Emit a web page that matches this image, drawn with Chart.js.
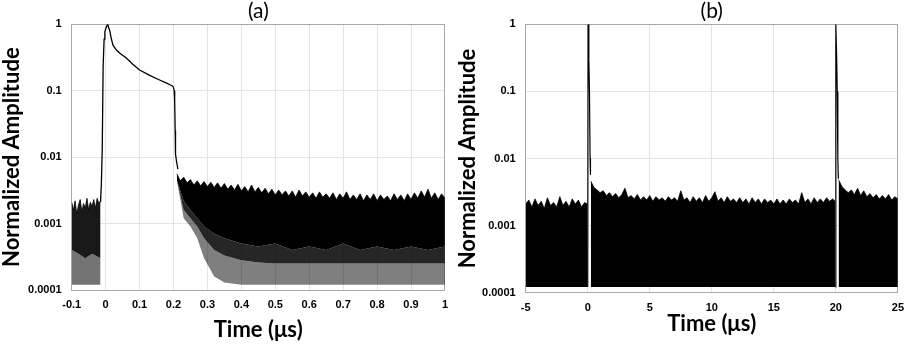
<!DOCTYPE html>
<html lang="en">
<head>
    <meta charset="UTF-8">
    <title>Normalized Amplitude vs Time</title>
    <script src="https://cdn.jsdelivr.net/npm/chart.js"></script>
    <style>
        body { margin: 0; background: #fff; }
        .panels { display: flex; width: 913px; height: 347px; }
        canvas { display: block; }
    </style>
</head>
<body>

    <div class="panels">
        <canvas id="grafico-a" width="456" height="347"></canvas>
        <canvas id="grafico-b" width="457" height="347"></canvas>
    </div>

    <script>
        // ---- axis ticks ----
        const yTicks = [0.0001, 0.001, 0.01, 0.1, 1];
        const yTickLabels = ['0.0001', '0.001', '0.01', '0.1', '1'];
        const xTicksA = [-0.1, 0, 0.1, 0.2, 0.3, 0.4, 0.5, 0.6, 0.7, 0.8, 0.9, 1];
        const xTickLabelsA = ['-0.1', '0', '0.1', '0.2', '0.3', '0.4', '0.5', '0.6', '0.7', '0.8', '0.9', '1'];
        const xTicksB = [-5, 0, 5, 10, 15, 20, 25];
        const xTickLabelsB = ['-5', '0', '5', '10', '15', '20', '25'];

        // ---- panel (a): single pulse, 0 - 1 us ----
        const pulseTimesA = [-0.015, -0.0125, -0.010, -0.0073, -0.0045, -0.0023, 0.001, 0.006, 0.012, 0.017, 0.022, 0.032, 0.042, 0.061, 0.08, 0.1, 0.13, 0.159, 0.18, 0.191, 0.197, 0.2, 0.202, 0.2035, 0.205, 0.206, 0.209, 0.213];
        const pulseValsA = [0.0021, 0.004, 0.013, 0.24, 0.6, 0.77, 0.88, 1.0, 0.8, 0.6, 0.48, 0.41, 0.366, 0.31, 0.25, 0.205, 0.17, 0.145, 0.13, 0.122, 0.118, 0.112, 0.1, 0.07, 0.025, 0.011, 0.0086, 0.0066];

        // noise before the pulse
        const preTimesA = [-0.1, -0.095, -0.09, -0.085, -0.08, -0.075, -0.07, -0.065, -0.06, -0.055, -0.05, -0.045, -0.04, -0.035, -0.03, -0.025, -0.02, -0.015];
        const preUpperA = [0.0021, 0.0016, 0.0022, 0.0014, 0.0019, 0.0023, 0.0015, 0.002, 0.0017, 0.0024, 0.0016, 0.0021, 0.0018, 0.0023, 0.0017, 0.0024, 0.002, 0.0022];
        const preDenseTimesA = [-0.1, -0.08, -0.06, -0.04, -0.015];
        const preDenseA = [0.0004, 0.00035, 0.0003, 0.00035, 0.0003];

        // noise after the pulse: upper envelope
        const postTimesA = [0.21, 0.22, 0.23, 0.24, 0.25, 0.26, 0.27, 0.28, 0.29, 0.30,
                            0.31, 0.32, 0.33, 0.34, 0.35, 0.36, 0.37, 0.38, 0.39, 0.40,
                            0.41, 0.42, 0.43, 0.44, 0.45, 0.46, 0.47, 0.48, 0.49, 0.50,
                            0.51, 0.52, 0.53, 0.54, 0.55, 0.56, 0.57, 0.58, 0.59, 0.60,
                            0.61, 0.62, 0.63, 0.64, 0.65, 0.66, 0.67, 0.68, 0.69, 0.70,
                            0.71, 0.72, 0.73, 0.74, 0.75, 0.76, 0.77, 0.78, 0.79, 0.80,
                            0.81, 0.82, 0.83, 0.84, 0.85, 0.86, 0.87, 0.88, 0.89, 0.90,
                            0.91, 0.92, 0.93, 0.94, 0.95, 0.96, 0.97, 0.98, 0.99, 1.00];
        const postUpperA = [0.0056, 0.0044, 0.0050, 0.0041, 0.0046, 0.0038, 0.0044, 0.0037, 0.0043, 0.0036,
                            0.0042, 0.0035, 0.0041, 0.0034, 0.0040, 0.0033, 0.0038, 0.0032, 0.0039, 0.0031,
                            0.0036, 0.0030, 0.0038, 0.0030, 0.0035, 0.0029, 0.0034, 0.0028, 0.0033, 0.0027,
                            0.0032, 0.0027, 0.0031, 0.0026, 0.0031, 0.0025, 0.0032, 0.0026, 0.0030, 0.0025,
                            0.0029, 0.0024, 0.0030, 0.0025, 0.0028, 0.0024, 0.0029, 0.0023, 0.0028, 0.0024,
                            0.0030, 0.0023, 0.0027, 0.0023, 0.0028, 0.0022, 0.0027, 0.0023, 0.0028, 0.0022,
                            0.0027, 0.0023, 0.0026, 0.0022, 0.0028, 0.0023, 0.0027, 0.0022, 0.0028, 0.0023,
                            0.0029, 0.0024, 0.0031, 0.0025, 0.0033, 0.0024, 0.0029, 0.0023, 0.0028, 0.0024];
        // noise after the pulse: lower limits (dense part, spikes, lowest spikes)
        const postLowTimesA = [0.21, 0.23, 0.25, 0.27, 0.29, 0.32, 0.35, 0.4, 0.45, 0.5, 0.55, 0.6, 0.65, 0.7, 0.75, 0.8, 0.85, 0.9, 0.95, 1.0];
        const postDenseA = [0.0045, 0.0022, 0.0016, 0.0012, 0.0009, 0.0007, 0.0006, 0.0005, 0.00045, 0.0005, 0.0004, 0.00045, 0.0004, 0.0005, 0.0004, 0.00045, 0.0004, 0.00045, 0.0004, 0.00045];
        const postSpikeA = [0.0045, 0.0016, 0.0012, 0.0009, 0.0006, 0.0004, 0.00033, 0.00028, 0.00026, 0.00025, 0.00025, 0.00025, 0.00025, 0.00025, 0.00025, 0.00025, 0.00025, 0.00025, 0.00025, 0.00025];
        const postFloorA = [0.0045, 0.0012, 0.0009, 0.0006, 0.0003, 0.00016, 0.00013, 0.00012, 0.00012, 0.00012, 0.00012, 0.00012, 0.00012, 0.00012, 0.00012, 0.00012, 0.00012, 0.00012, 0.00012, 0.00012];
        const floorA = 0.00012;

        // ---- panel (b): pulse train, -5 - 25 us ----
        const pulse1TimesB = [0.0, 0.03, 0.09, 0.14, 0.19, 0.22];
        const pulse1ValsB = [0.000122, 1.0, 0.3, 0.1, 0.01, 0.0057];
        const pulse2TimesB = [19.95, 20.0, 20.07, 20.11, 20.16, 20.2];
        const pulse2ValsB = [0.000122, 1.0, 0.3, 0.1, 0.01, 0.005];

        const preTimesB = [-5, -4.75, -4.5, -4.25, -4, -3.75, -3.5, -3.25, -3, -2.75, -2.5, -2.25, -2, -1.75, -1.5, -1.25, -1, -0.75, -0.5, -0.25, -0.02];
        const preUpperB = [0.0021, 0.0024, 0.0019, 0.0025, 0.0020, 0.0023, 0.0018, 0.0026, 0.0020, 0.0022, 0.0019, 0.0027, 0.0020, 0.0023, 0.0019, 0.0025, 0.0021, 0.0024, 0.0019, 0.0022, 0.0021];

        const midTimesB = [0.25, 0.5, 0.75, 1, 1.25, 1.5, 1.75, 2, 2.25, 2.5, 2.75, 3, 3.25, 3.5, 3.75, 4, 4.25, 4.5, 4.75, 5,
                           5.25, 5.5, 5.75, 6, 6.25, 6.5, 6.75, 7, 7.25, 7.5, 7.75, 8, 8.25, 8.5, 8.75, 9, 9.25, 9.5, 9.75, 10,
                           10.25, 10.5, 10.75, 11, 11.25, 11.5, 11.75, 12, 12.25, 12.5, 12.75, 13, 13.25, 13.5, 13.75, 14, 14.25, 14.5, 14.75, 15,
                           15.25, 15.5, 15.75, 16, 16.25, 16.5, 16.75, 17, 17.25, 17.5, 17.75, 18, 18.25, 18.5, 18.75, 19, 19.25, 19.5, 19.75, 19.93];
        const midUpperB = [0.0046, 0.0037, 0.0034, 0.0031, 0.0033, 0.0028, 0.0031, 0.0027, 0.0030, 0.0026, 0.0029, 0.0036, 0.0026, 0.0028, 0.0025, 0.0029, 0.0024, 0.0027, 0.0024, 0.0028,
                           0.0023, 0.0027, 0.0024, 0.0026, 0.0023, 0.0027, 0.0024, 0.0026, 0.0023, 0.0033, 0.0024, 0.0026, 0.0022, 0.0027, 0.0023, 0.0026, 0.0022, 0.0028, 0.0023, 0.0026,
                           0.0032, 0.0023, 0.0026, 0.0022, 0.0027, 0.0023, 0.0025, 0.0022, 0.0026, 0.0022, 0.0025, 0.0021, 0.0026, 0.0022, 0.0025, 0.0021, 0.0025, 0.0022, 0.0024, 0.0021,
                           0.0025, 0.0021, 0.0024, 0.0021, 0.0025, 0.0022, 0.0024, 0.0021, 0.0031, 0.0022, 0.0025, 0.0021, 0.0026, 0.0022, 0.0025, 0.0022, 0.0026, 0.0023, 0.0025, 0.0023];

        const postTimesB = [20.22, 20.5, 20.75, 21, 21.25, 21.5, 21.75, 22, 22.25, 22.5, 22.75, 23, 23.25, 23.5, 23.75, 24, 24.25, 24.5, 24.75, 25];
        const postUpperB = [0.0048, 0.0038, 0.0034, 0.0031, 0.0034, 0.0029, 0.0036, 0.0028, 0.0033, 0.0027, 0.0030, 0.0026, 0.0029, 0.0025, 0.0028, 0.0025, 0.0029, 0.0024, 0.0027, 0.0025];
        const floorB = 0.000122;

        const gridColor = '#e4e4e4';
        const borderColor = '#a8a8a8';
        const tickFont = { family: 'Liberation Sans', weight: 'bold', size: 11 };
        const titleFont = { family: 'Lato', weight: 'bold', size: 22, lineHeight: 1 };

        function pontos(tempos, valores) {
            return tempos.map((t, i) => ({ x: t, y: valores[i] }));
        }

        function linha(tempos, valores, extra) {
            return Object.assign({
                data: pontos(tempos, valores),
                borderColor: '#000',
                borderWidth: 1.2,
                pointRadius: 0,
                tension: 0,
                fill: false
            }, extra);
        }

        function opcoes(p) {
            return {
                responsive: false,
                animation: false,
                layout: { padding: 0 },
                plugins: { legend: { display: false }, tooltip: { enabled: false } },
                scales: {
                    x: {
                        type: 'linear', position: 'bottom', min: p.xMin, max: p.xMax,
                        afterBuildTicks: s => { s.ticks = p.xTicks.map(v => ({ value: v })); },
                        afterFit: s => { s.height = p.xHeight; },
                        ticks: { color: '#000', font: tickFont, padding: p.xPad, maxRotation: 0,
                                 callback: (v, i) => p.xLabels[i] },
                        grid: { color: gridColor, drawTicks: false },
                        border: { color: borderColor },
                        title: { display: true, text: 'Time (μs)', color: '#000', font: titleFont,
                                 padding: { top: 0, bottom: p.xTitlePad } }
                    },
                    top: {
                        type: 'linear', position: 'top', min: p.xMin, max: p.xMax,
                        afterFit: s => { s.height = p.top; },
                        ticks: { display: false },
                        grid: { display: false, drawTicks: false },
                        border: { color: borderColor },
                        title: { display: true, text: p.label, color: '#000',
                                 font: { family: 'Lato', size: 21, lineHeight: 1 }, padding: { top: 1, bottom: 0 } }
                    },
                    y: {
                        type: 'logarithmic', position: 'left', min: 0.0001, max: 1,
                        afterBuildTicks: s => { s.ticks = yTicks.map(v => ({ value: v })); },
                        afterFit: s => { s.width = p.yWidth; },
                        ticks: { color: '#000', font: tickFont, padding: 10,
                                 callback: (v, i) => yTickLabels[i] },
                        grid: { color: gridColor, drawTicks: false },
                        border: { color: borderColor },
                        title: { display: true, text: 'Normalized Amplitude', color: '#000', font: titleFont,
                                 padding: { top: 1, bottom: 0 } }
                    },
                    right: {
                        type: 'linear', position: 'right',
                        afterFit: s => { s.width = p.right; },
                        ticks: { display: false },
                        grid: { display: false, drawTicks: false },
                        border: { color: borderColor }
                    }
                }
            };
        }

        new Chart(document.getElementById('grafico-a'), {
            type: 'line',
            data: {
                datasets: [
                    linha(pulseTimesA, pulseValsA, { borderWidth: 1.3 }),
                    linha(preTimesA, preUpperA, { borderWidth: 0.8, fill: '+1', backgroundColor: 'rgba(0,0,0,0.9)' }),
                    linha(preDenseTimesA, preDenseA, { borderWidth: 0, fill: { value: floorA }, backgroundColor: 'rgba(0,0,0,0.55)' }),
                    linha(postTimesA, postUpperA, { borderWidth: 0.8, fill: '+1', backgroundColor: '#000' }),
                    linha(postLowTimesA, postDenseA, { borderWidth: 0, fill: '+1', backgroundColor: 'rgba(0,0,0,0.85)' }),
                    linha(postLowTimesA, postSpikeA, { borderWidth: 0, fill: '+1', backgroundColor: 'rgba(0,0,0,0.5)' }),
                    linha(postLowTimesA, postFloorA, { borderWidth: 0 })
                ]
            },
            options: opcoes({
                label: '(a)', xMin: -0.1, xMax: 1, xTicks: xTicksA, xLabels: xTickLabelsA,
                xHeight: 57, xPad: 8, xTitlePad: 6, top: 24.3, yWidth: 71.7, right: 9.3
            })
        });

        new Chart(document.getElementById('grafico-b'), {
            type: 'line',
            data: {
                datasets: [
                    linha(pulse1TimesB, pulse1ValsB),
                    linha(pulse2TimesB, pulse2ValsB),
                    linha(preTimesB, preUpperB, { borderWidth: 0.8, fill: { value: floorB }, backgroundColor: '#000' }),
                    linha(midTimesB, midUpperB, { borderWidth: 0.8, fill: { value: floorB }, backgroundColor: '#000' }),
                    linha(postTimesB, postUpperB, { borderWidth: 0.8, fill: { value: floorB }, backgroundColor: '#000' })
                ]
            },
            options: opcoes({
                label: '(b)', xMin: -5, xMax: 25, xTicks: xTicksB, xLabels: xTickLabelsB,
                xHeight: 54.3, xPad: 9, xTitlePad: 12, top: 24.3, yWidth: 69.7, right: 7.7
            })
        });
    </script>

</body>
</html>
